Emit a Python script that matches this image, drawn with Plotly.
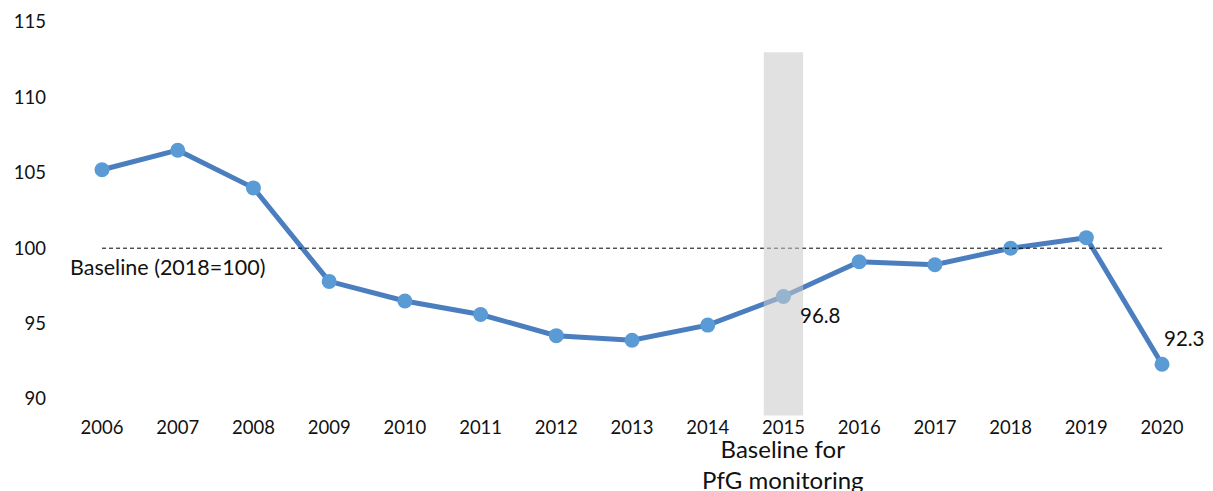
import plotly.graph_objects as go

# Index series, 2018 = 100
years = [2006, 2007, 2008, 2009, 2010, 2011, 2012, 2013, 2014, 2015, 2016, 2017, 2018, 2019, 2020]
index_values = [105.2, 106.5, 104.0, 97.8, 96.5, 95.6, 94.2, 93.9, 94.9, 96.8, 99.1, 98.9, 100.0, 100.7, 92.3]
baseline_value = 100
baseline_year = 2015
y_ticks = [90, 95, 100, 105, 110, 115]
labelled_years = [2015, 2020]

FONT = "Lato"
LINE_BLUE = "#4a7ebf"
MARKER_BLUE = "#5b9bd5"

fig = go.Figure()

fig.add_trace(go.Scatter(
    x=years, y=index_values, mode="lines+markers",
    line=dict(color=LINE_BLUE, width=5),
    marker=dict(color=MARKER_BLUE, size=15),
    hoverinfo="x+y", showlegend=False,
))

# Dashed reference line at the baseline
fig.add_trace(go.Scatter(
    x=[years[0], years[-1]], y=[baseline_value, baseline_value], mode="lines",
    line=dict(color="black", width=1, dash="4px,3px"),
    hoverinfo="skip", showlegend=False,
))

# Shaded band marking the monitoring baseline year
fig.add_shape(
    type="rect", xref="x", yref="y",
    x0=baseline_year - 0.26, x1=baseline_year + 0.26,
    y0=88.9, y1=113.0,
    fillcolor="#c8c8c8", opacity=0.55, line=dict(width=0), layer="above",
)

# Value labels
label_offsets = {2015: (37, -19), 2020: (22, 26)}
for yr in labelled_years:
    v = index_values[years.index(yr)]
    dx, dy = label_offsets[yr]
    fig.add_annotation(
        x=yr, y=v, text=f"{v:.1f}", showarrow=False,
        xshift=dx, yshift=dy, font=dict(family=FONT, size=20.5, color="#111111"),
    )

fig.add_annotation(
    x=years[0], y=baseline_value, text="Baseline (2018=100)", showarrow=False,
    xanchor="left", yanchor="middle", xshift=-34, yshift=-19,
    font=dict(family=FONT, size=21.5, color="#111111"),
)

fig.add_annotation(
    x=baseline_year, y=0, xref="x", yref="paper",
    text="Baseline for<br>PfG monitoring", showarrow=False,
    xanchor="center", yanchor="top", yshift=-16,
    font=dict(family=FONT, size=24, color="#111111"),
)

fig.update_layout(
    width=1213, height=491,
    margin=dict(l=60, r=20, t=10, b=75),
    paper_bgcolor="white", plot_bgcolor="white",
    font=dict(family=FONT, size=18.5, color="#111111"),
    xaxis=dict(
        range=[2005.445, 2020.409], tickmode="array", tickvals=years,
        ticktext=[str(y) for y in years], showgrid=False, zeroline=False,
        showline=False, ticks="", ticklabelstandoff=-2,
    ),
    yaxis=dict(
        range=[88.873, 115.796], tickmode="array", tickvals=y_ticks,
        showgrid=False, zeroline=False, showline=False, ticks="",
        ticklabelstandoff=13,
    ),
)

fig.write_html("out.html")
